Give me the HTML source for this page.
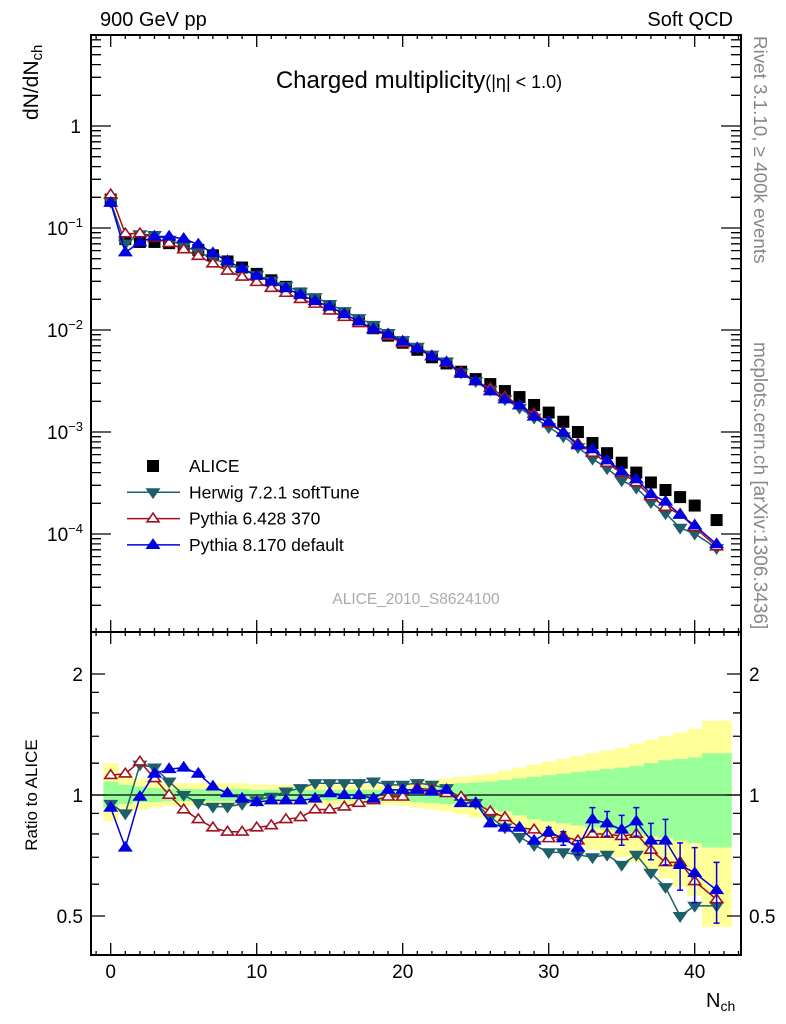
<!DOCTYPE html>
<html><head><meta charset="utf-8"><style>
html,body{margin:0;padding:0;background:#fff;}
svg{display:block;font-family:"Liberation Sans",sans-serif;}
</style></head><body>
<svg id="c" width="786" height="1024" viewBox="0 0 786 1024" xmlns="http://www.w3.org/2000/svg">
<text x="100" y="26" font-size="20">900 GeV pp</text>
<text x="733" y="26" font-size="20" text-anchor="end">Soft QCD</text>
<text x="419" y="88" font-size="24" text-anchor="middle">Charged multiplicity<tspan font-size="18">(|η| &lt; 1.0)</tspan></text>
<text transform="translate(38,120) rotate(-90)" font-size="21">dN/dN<tspan font-size="15" dy="4">ch</tspan></text>
<text transform="translate(37,795) rotate(-90)" font-size="17" text-anchor="middle">Ratio to ALICE</text>
<text x="706" y="1007" font-size="20">N<tspan font-size="14" dy="4">ch</tspan></text>
<text transform="translate(754,36) rotate(90)" font-size="18.8" fill="#888">Rivet 3.1.10, ≥ 400k events</text>
<text transform="translate(754,342) rotate(90)" font-size="19" fill="#888">mcplots.cern.ch [arXiv:1306.3436]</text>
<text x="416" y="604" font-size="15.5" fill="#aaa" text-anchor="middle">ALICE_2010_S8624100</text>
<g id="bands"></g><g id="mainMarks"></g><g id="ratioMarks"></g><g id="axes"></g>
<g id="legend"></g>
</svg>
<script>
const nch=[0,1,2,3,4,5,6,7,8,9,10,11,12,13,14,15,16,17,18,19,20,21,22,23,24,25,26,27,28,29,30,31,32,33,34,35,36,37,38,39,40,41.5];
const alice=[0.19,0.078,0.073,0.073,0.071,0.067,0.061,0.054,0.047,0.041,0.0355,0.0307,0.0265,0.0228,0.0196,0.0168,0.0143,0.0122,0.0104,0.0088,0.0075,0.0064,0.0054,0.0047,0.0039,0.0033,0.00295,0.00252,0.0022,0.00184,0.00155,0.00126,0.001,0.00078,0.00062,0.0005,0.0004,0.00032,0.00027,0.00023,0.00019,0.000137];
const herwigRatio=[0.95,0.90,1.19,1.17,1.08,1.0,0.955,0.935,0.935,0.95,0.97,0.99,1.02,1.04,1.07,1.07,1.07,1.07,1.08,1.06,1.06,1.07,1.06,1.04,0.98,0.955,0.88,0.83,0.786,0.75,0.72,0.72,0.71,0.70,0.71,0.67,0.71,0.64,0.59,0.50,0.53,0.53];
const py6Ratio=[1.12,1.13,1.21,1.10,1.0,0.92,0.87,0.83,0.81,0.81,0.83,0.84,0.87,0.88,0.92,0.92,0.935,0.955,0.97,0.99,0.99,1.04,1.03,1.01,0.99,0.955,0.91,0.88,0.83,0.82,0.78,0.79,0.77,0.80,0.80,0.79,0.80,0.73,0.68,0.68,0.61,0.55];
const py8Ratio=[0.93,0.74,0.99,1.13,1.16,1.17,1.13,1.05,1.01,0.98,0.96,0.97,0.97,0.97,0.98,1.01,1.0,1.0,0.98,1.03,1.03,1.03,1.02,1.03,0.955,0.955,0.85,0.83,0.83,0.77,0.81,0.78,0.74,0.87,0.85,0.82,0.86,0.77,0.77,0.67,0.64,0.58];
const py8Err=[0,0,0,0,0,0,0,0,0,0,0,0,0,0,0,0,0,0,0,0,0,0,0,0,0,0,0,0,0,0,0.02,0.03,0.03,0.06,0.06,0.07,0.07,0.08,0.1,0.09,0.1,0.1];
const yelHi=[1.20,1.13,1.10,1.08,1.07,1.07,1.07,1.07,1.07,1.07,1.06,1.06,1.06,1.06,1.06,1.06,1.06,1.06,1.06,1.06,1.07,1.08,1.09,1.10,1.11,1.12,1.13,1.15,1.17,1.19,1.21,1.23,1.25,1.27,1.29,1.31,1.34,1.37,1.40,1.43,1.46,1.53];
const yelLo=[0.86,0.90,0.92,0.93,0.94,0.94,0.94,0.94,0.94,0.94,0.945,0.945,0.945,0.945,0.945,0.945,0.945,0.945,0.945,0.945,0.94,0.93,0.92,0.91,0.895,0.88,0.865,0.85,0.83,0.80,0.78,0.77,0.75,0.73,0.71,0.70,0.68,0.65,0.62,0.59,0.56,0.47];
const grnHi=[1.08,1.06,1.05,1.04,1.035,1.035,1.035,1.035,1.035,1.035,1.03,1.03,1.03,1.03,1.03,1.03,1.03,1.03,1.03,1.03,1.035,1.04,1.05,1.06,1.07,1.075,1.08,1.09,1.10,1.11,1.12,1.13,1.14,1.15,1.16,1.17,1.18,1.20,1.22,1.23,1.24,1.27];
const grnLo=[0.93,0.95,0.96,0.96,0.965,0.965,0.965,0.965,0.965,0.965,0.97,0.97,0.97,0.97,0.97,0.97,0.97,0.97,0.97,0.97,0.965,0.96,0.955,0.95,0.94,0.93,0.92,0.91,0.89,0.87,0.86,0.85,0.84,0.83,0.82,0.81,0.80,0.79,0.78,0.77,0.76,0.74];
const binLo=[-0.5,0.5,1.5,2.5,3.5,4.5,5.5,6.5,7.5,8.5,9.5,10.5,11.5,12.5,13.5,14.5,15.5,16.5,17.5,18.5,19.5,20.5,21.5,22.5,23.5,24.5,25.5,26.5,27.5,28.5,29.5,30.5,31.5,32.5,33.5,34.5,35.5,36.5,37.5,38.5,39.5,40.5];
const binHi=[0.5,1.5,2.5,3.5,4.5,5.5,6.5,7.5,8.5,9.5,10.5,11.5,12.5,13.5,14.5,15.5,16.5,17.5,18.5,19.5,20.5,21.5,22.5,23.5,24.5,25.5,26.5,27.5,28.5,29.5,30.5,31.5,32.5,33.5,34.5,35.5,36.5,37.5,38.5,39.5,40.5,42.5];
const xTicks=[0,10,20,30,40];
const mainTickExp=[0,-1,-2,-3,-4];
const ratioTicks=[2,1,0.5];

const NS="http://www.w3.org/2000/svg";
const L=91,R=741,T=35,M=632,B=955;
const X=v=>110.7+(v)*14.6;
const Ym=v=>126-102*Math.log10(v);
const Yr=v=>795-402*Math.log10(v);
function mk(p,tag,at){const e=document.createElementNS(NS,tag);for(const k in at)e.setAttribute(k,at[k]);p.appendChild(e);return e;}
const bands=document.getElementById('bands'),mm=document.getElementById('mainMarks'),rm=document.getElementById('ratioMarks'),ax=document.getElementById('axes'),lg=document.getElementById('legend');
for(let i=0;i<nch.length;i++){
  const x0=X(binLo[i]),x1=X(binHi[i]);
  let r=mk(bands,'rect',{x:x0,y:Yr(yelHi[i]),width:x1-x0+0.5,height:Yr(yelLo[i])-Yr(yelHi[i]),fill:'#ffff99'});
  
  
  r=mk(bands,'rect',{x:x0,y:Yr(grnHi[i]),width:x1-x0+0.5,height:Yr(grnLo[i])-Yr(grnHi[i]),fill:'#99ff99'});
  
  
}
mk(rm,'line',{x1:L,x2:R,y1:Yr(1),y2:Yr(1),stroke:'#000','stroke-width':1.2});
function tri(p,x,y,s,down,fill,stroke){
  const h=s*0.9;const pts=down?`${x-s},${y-h*0.6} ${x+s},${y-h*0.6} ${x},${y+h}`:`${x-s},${y+h*0.6} ${x+s},${y+h*0.6} ${x},${y-h}`;
  return mk(p,'polygon',{points:pts,fill:fill,stroke:stroke,'stroke-width':1.6});
}
const series=[
  {r:herwigRatio,c:'#1f5f6a',down:true,fill:'#1f5f6a',name:'herwig'},
  {r:py6Ratio,c:'#a01020',down:false,fill:'#fff',name:'pythia6'},
  {r:py8Ratio,c:'#0000e0',down:false,fill:'#0000e0',name:'pythia8'}];
for(let i=0;i<nch.length;i++){
  const s=mk(mm,'rect',{x:X(nch[i])-6,y:Ym(alice[i])-6,width:12,height:12,fill:'#000'});
  
  
}
series.forEach(S=>{
  const gm=mk(mm,'g',{});
  
  const gr=mk(rm,'g',{});
  
  mk(gm,'polyline',{points:nch.map((n,i)=>X(n)+','+Ym(alice[i]*S.r[i])).join(' '),fill:'none',stroke:S.c,'stroke-width':1.5});
  mk(gr,'polyline',{points:nch.map((n,i)=>X(n)+','+Yr(S.r[i])).join(' '),fill:'none',stroke:S.c,'stroke-width':1.5});
  nch.forEach((n,i)=>{
    if(S.name==='pythia8'&&py8Err[i]>0){
      const x=X(n),y1=Yr(S.r[i]+py8Err[i]),y2=Yr(S.r[i]-py8Err[i]);
      mk(gr,'path',{d:`M${x},${y1}V${y2}M${x-3},${y1}h6M${x-3},${y2}h6`,stroke:S.c,'stroke-width':1.5,fill:'none'});
    }
    let t=tri(gm,X(n),Ym(alice[i]*S.r[i]),6,S.down,S.fill,S.c);
    
    
    t=tri(gr,X(n),Yr(S.r[i]),6,S.down,S.fill,S.c);
    
    
  });
});
mk(ax,'rect',{x:L,y:T,width:R-L,height:M-T,fill:'none',stroke:'#000','stroke-width':2});
mk(ax,'rect',{x:L,y:M,width:R-L,height:B-M,fill:'none',stroke:'#000','stroke-width':2});
let d='';
for(let v=-1;v<=43;v++){const x=X(v);if(x<L||x>R)continue;const big=v%10===0;const len=big?12:4;
  d+=`M${x},${B}v${-len}M${x},${M}v${len}M${x},${M}v${-len}M${x},${T}v${len}`;}
xTicks.forEach(v=>{const t=mk(ax,'text',{x:X(v),y:978,'font-size':19,'text-anchor':'middle'});t.textContent=v;
  
  });
for(let e=-5;e<=0;e++){for(let m=1;m<10;m++){const y=Ym(m*Math.pow(10,e));if(y<T||y>M)continue;const len=m===1?20:10;
  d+=`M${L},${y}h${len}M${R},${y}h${-len}`;}}
mainTickExp.forEach(e=>{const y=Ym(Math.pow(10,e));const t=mk(ax,'text',{x:e===0?81:83,y:y+7,'font-size':19,'text-anchor':'end'});
  if(e===0)t.textContent='1';else{t.textContent='10';const ts=mk(t,'tspan',{'font-size':13,dy:-8});ts.textContent='−'+(-e);}
  
  });
[0.5,0.6,0.7,0.8,0.9,1,2].forEach(v=>{const y=Yr(v);const len=(v===1||v===2||v===0.5)?14:8;d+=`M${L},${y}h${len}M${R},${y}h${-len}`;});
[1.2,1.4,1.6,1.8].forEach(v=>{const y=Yr(v);d+=`M${L},${y}h8M${R},${y}h-8`;});
ratioTicks.forEach(v=>{const y=Yr(v)+7;
  let t=mk(ax,'text',{x:83,y:y,'font-size':19,'text-anchor':'end'});t.textContent=v===0.5?'0.5':v;
  
  
  t=mk(ax,'text',{x:749,y:y,'font-size':19});t.textContent=v===0.5?'0.5':v;
  
  });
mk(ax,'path',{d:d,stroke:'#000','stroke-width':1.3,fill:'none'});
const leg=[['ALICE',null],['Herwig 7.2.1 softTune',series[0]],['Pythia 6.428 370',series[1]],['Pythia 8.170 default',series[2]]];
leg.forEach((l,i)=>{const y=466+i*26.3;const g=mk(lg,'g',{});
  
  
  if(!l[1])mk(g,'rect',{x:147,y:y-6,width:12,height:12,fill:'#000'});
  else{mk(g,'line',{x1:127,x2:180,y1:y,y2:y,stroke:l[1].c,'stroke-width':1.5});tri(g,153,y,6,l[1].down,l[1].fill,l[1].c);}
  const t=mk(g,'text',{x:189,y:y+6,'font-size':17.5});t.textContent=l[0];});
</script>
</body></html>
